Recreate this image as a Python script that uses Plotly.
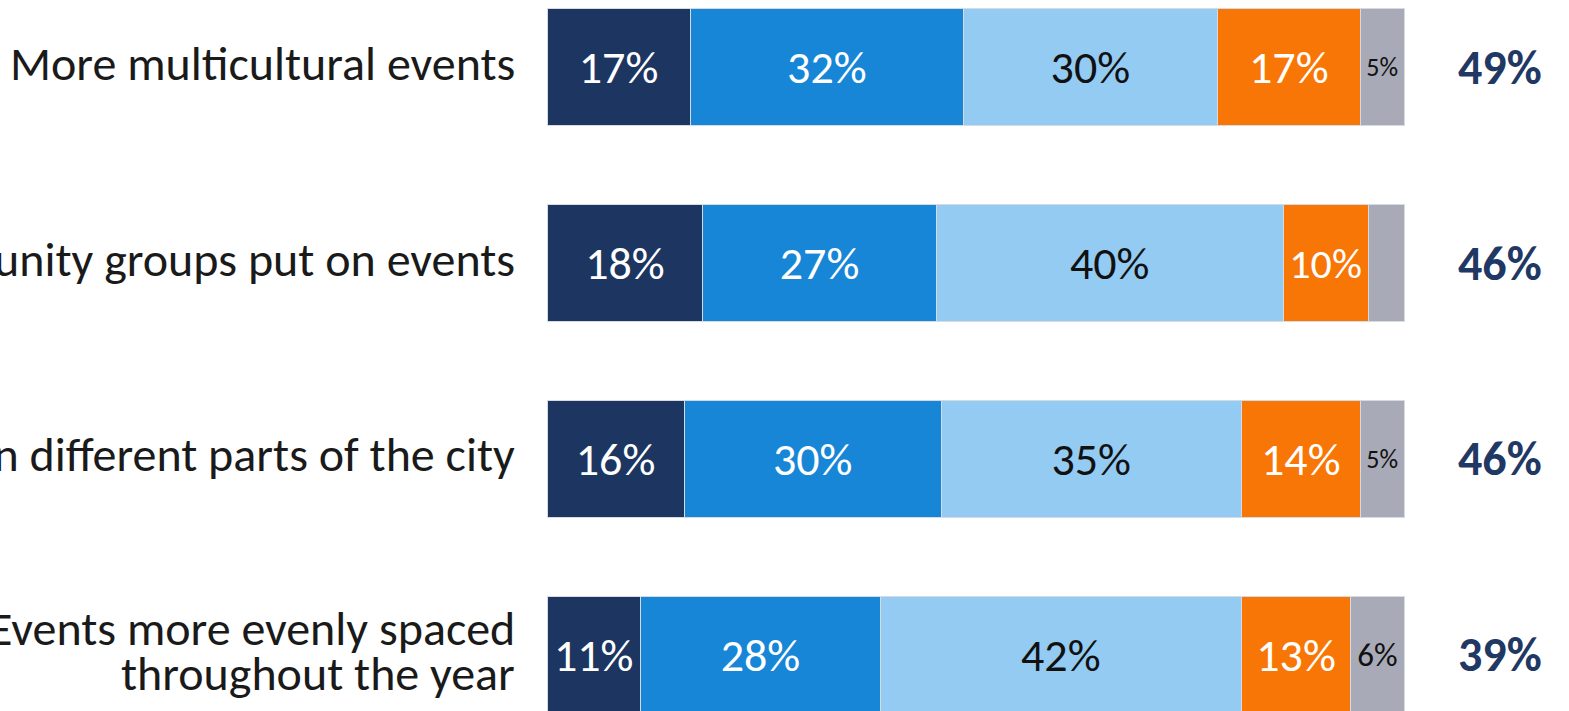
import plotly.graph_objects as go

# ---- data ----
categories = [
    "More multicultural events",
    "More community groups put on events",
    "More events in different parts of the city",
    "Events more evenly spaced throughout the year",
]
label_lines = [
    ["More multicultural events"],
    ["More community groups put on events"],
    ["More events in different parts of the city"],
    ["Events more evenly spaced", "throughout the year"],
]
series_names = ["Strongly agree", "Agree", "Neutral", "Disagree", "Don't know"]
strongly_agree = [16.7, 18.2, 16.0, 10.9]
agree = [31.9, 27.2, 30.0, 28.0]
neutral = [29.6, 40.5, 35.0, 42.1]
disagree = [16.7, 9.9, 13.9, 12.8]
dont_know = [5.1, 4.2, 5.1, 6.2]

strongly_agree_txt = ["17%", "18%", "16%", "11%"]
agree_txt = ["32%", "27%", "30%", "28%"]
neutral_txt = ["30%", "40%", "35%", "42%"]
disagree_txt = ["17%", "10%", "14%", "13%"]
dont_know_txt = ["5%", "", "5%", "6%"]

net_agree = ["49%", "46%", "46%", "39%"]

# ---- styles ----
FONT = "Calibri, Carlito, Lato, sans-serif"
colors = ["#1D3561", "#1886D6", "#93CBF3", "#F87605", "#A8AAB8"]
text_colors = ["white", "white", "#111111", "white", "#111111"]
values = [strongly_agree, agree, neutral, disagree, dont_know]
texts = [strongly_agree_txt, agree_txt, neutral_txt, disagree_txt, dont_know_txt]
text_sizes = [[46] * 4, [46] * 4, [46] * 4, [46, 42, 46, 46], [26, 26, 26, 33]]

fig = go.Figure()
for name, vals, txt, col, tcol, tsz in zip(series_names, values, texts, colors, text_colors, text_sizes):
    fig.add_trace(go.Bar(
        y=categories, x=vals, name=name, orientation="h",
        marker=dict(color=col, line=dict(color="#D6DAE2", width=1)),
        text=txt, textposition="inside", insidetextanchor="middle",
        textangle=0,
        textfont=dict(family=FONT, size=tsz, color=tcol),
        constraintext="none",
        width=0.6, showlegend=False, hoverinfo="skip",
    ))

annotations = []
line_gap = 45
for cat, lines in zip(categories, label_lines):
    n = len(lines)
    for i, ln in enumerate(lines):
        annotations.append(dict(
            x=0, y=cat, xref="x", yref="y", text=ln, showarrow=False,
            xanchor="right", yanchor="middle", xshift=-30,
            yshift=((n - 1) / 2 - i) * line_gap + 4,
            font=dict(family=FONT, size=48, color="#1a1a1a"),
        ))
for cat, tot in zip(categories, net_agree):
    annotations.append(dict(
        x=111.2, y=cat, xref="x", yref="y", text="<b>" + tot + "</b>",
        showarrow=False, xanchor="center", yanchor="middle",
        font=dict(family=FONT, size=48, color="#1F3864"),
    ))

fig.update_layout(
    barmode="stack",
    width=1569, height=711,
    margin=dict(l=547, r=0, t=0, b=0),
    paper_bgcolor="white", plot_bgcolor="white",
    xaxis=dict(range=[0, 119.25], visible=False, fixedrange=True),
    yaxis=dict(
        type="category", categoryorder="array", categoryarray=categories,
        range=[3.286, -0.342], showticklabels=False, showgrid=False,
        zeroline=False, showline=False, ticks="", fixedrange=True,
    ),
    annotations=annotations,
    font=dict(family=FONT),
)

fig.write_html(
    "out.html",
    config={"displayModeBar": False},
    post_script="document.body.style.margin='0';document.body.style.overflow='hidden';",
)
